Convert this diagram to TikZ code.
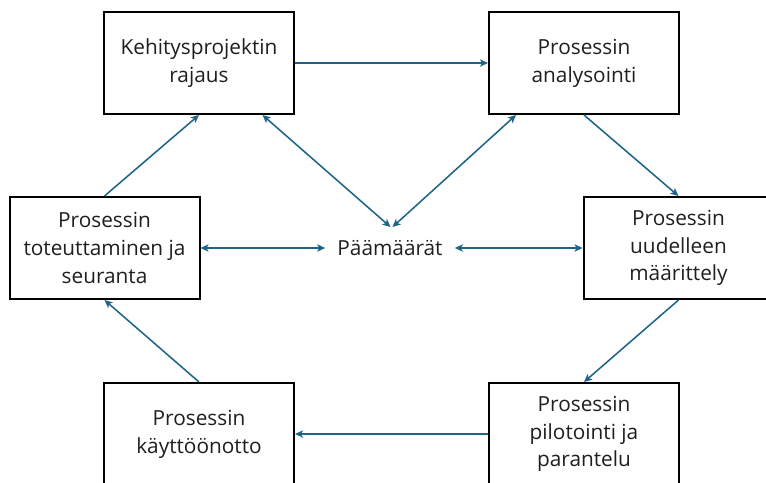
\documentclass[tikz,border=0pt]{standalone}
\usepackage{fontspec}
\setmainfont{Open Sans}
\usetikzlibrary{arrows.meta,calc}
\definecolor{flow}{HTML}{1E6487}
\begin{document}
\begin{tikzpicture}[x=0.75pt,y=-0.75pt,
  stage/.style={draw=black,line width=1.5pt,fill=white,rectangle,
    minimum width=142.5pt,minimum height=76.5pt,inner sep=0pt,
    align=center,font=\fontsize{15.6pt}{20.8pt}\selectfont,text=black!88},
  link/.style={draw=flow,line width=1.15pt,-{Stealth[length=6pt,width=5.5pt,inset=1.5pt]}},
  twoway/.style={link,{Stealth[length=6pt,width=5.5pt,inset=1.5pt]}-{Stealth[length=6pt,width=5.5pt,inset=1.5pt]}}]
\useasboundingbox (0,0) rectangle (766,482);
\clip (0,0) rectangle (766,482);
% process stages
\node[stage] (b1) at (199,63) {Kehitysprojektin\\rajaus};
\node[stage] (b2) at (584,63) {Prosessin\\analysointi};
\node[stage] (b3) at (104.5,248) {Prosessin\\toteuttaminen ja\\seuranta};
\node[stage] (b4) at (678.5,248) {Prosessin\\uudelleen\\määrittely};
\node[stage] (b5) at (199,434) {Prosessin\\käyttöönotto};
\node[stage] (b6) at (584,434) {Prosessin\\pilotointi ja\\parantelu};
% goals in the middle
\node[inner xsep=9pt,inner ysep=0pt,font=\fontsize{15.6pt}{18pt}\selectfont,text=black!88] (p) at (390,248) {Päämäärät};
\coordinate (pl) at (390.5,227);
\coordinate (pr) at (392.5,227);
% cycle
\draw[link] (b1.east) -- (b2.west);
\draw[link] (b2.south) -- (b4.north);
\draw[link] (b4.south) -- (b6.north);
\draw[link] (b6.west) -- (b5.east);
\draw[link] (b5.north) -- (b3.south);
\draw[link] (b3.north) -- (b1.south);
% links to the goals
\draw[twoway] ($(b1.south)+(63.5,0)$) -- (pl);
\draw[twoway] ($(b2.south)+(-68,0)$) -- (pr);
\draw[twoway] (b3.east) -- (p.west);
\draw[twoway] (p.east) -- (b4.west);
\end{tikzpicture}
\end{document}
